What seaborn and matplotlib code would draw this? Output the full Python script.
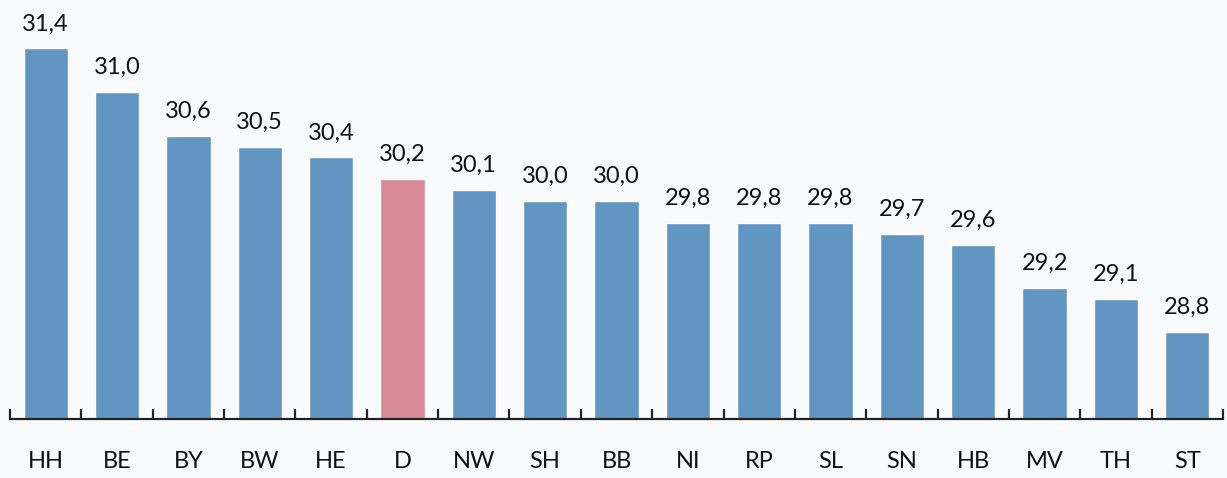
import matplotlib
matplotlib.use("Agg")
import matplotlib.pyplot as plt
import pandas as pd
import seaborn as sns

# Data
states = ['HH', 'BE', 'BY', 'BW', 'HE', 'D', 'NW', 'SH', 'BB',
          'NI', 'RP', 'SL', 'SN', 'HB', 'MV', 'TH', 'ST']
values = [31.4, 31.0, 30.6, 30.5, 30.4, 30.2, 30.1, 30.0, 30.0,
          29.8, 29.8, 29.8, 29.7, 29.6, 29.2, 29.1, 28.8]
highlight = ['D']

df = pd.DataFrame({'state': states, 'value': values})
df['group'] = ['total' if s in highlight else 'land' for s in states]

bg = '#f9fafc'
sns.set_theme(style='white')
plt.rcParams['font.family'] = ['Lato', 'DejaVu Sans']

fig = plt.figure(figsize=(12.27, 4.78), dpi=100, facecolor=bg)
ax = fig.add_axes([10 / 1227, 59 / 478, 1213 / 1227, 419 / 478])
ax.set_facecolor(bg)

sns.barplot(data=df, x='state', y='value', hue='group',
            palette={'land': '#6096c1', 'total': '#d78a94'},
            dodge=False, legend=False, width=0.62, saturation=1, ax=ax)

ax.set_ylim(28.0, 28.0 + 419 / 109.0)
ax.set_xlim(-0.5, len(states) - 0.5)

for i, v in enumerate(values):
    ax.annotate(f'{v:.1f}'.replace('.', ','), (i, v), xytext=(0, 10),
                textcoords='offset points', ha='center', va='bottom',
                fontsize=17, color='#111111')

# axis styling
for side in ['top', 'right', 'left']:
    ax.spines[side].set_visible(False)
ax.spines['bottom'].set_color('#222222')
ax.spines['bottom'].set_linewidth(1.6)
ax.set_yticks([])
ax.set_xlabel('')
ax.set_ylabel('')
ax.set_xticks([i - 0.5 for i in range(len(states) + 1)], minor=True)
ax.tick_params(axis='x', which='minor', direction='in', length=7,
               width=1.6, color='#222222', bottom=True)
ax.tick_params(axis='x', which='major', length=0, pad=23,
               labelsize=17, labelcolor='#111111')

fig.savefig('out.png', dpi=100, facecolor=bg)
